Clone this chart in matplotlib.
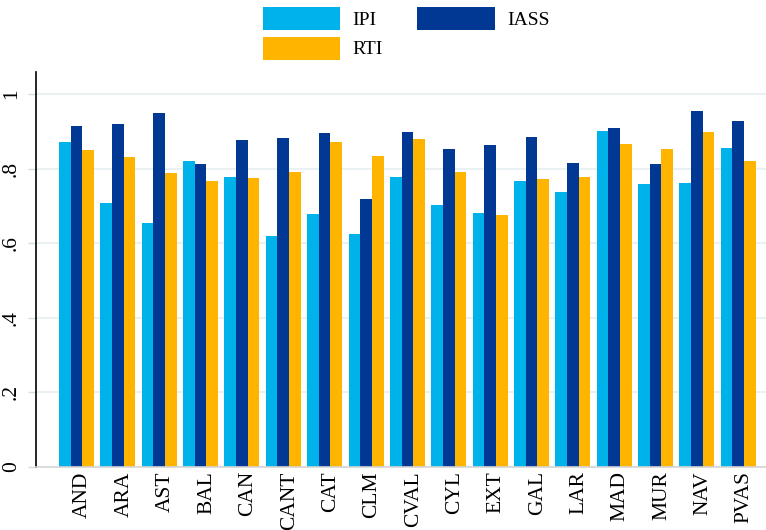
import matplotlib
matplotlib.use("Agg")
import matplotlib.pyplot as plt
import matplotlib.transforms as mtransforms
import numpy as np

categories = ["AND", "ARA", "AST", "BAL", "CAN", "CANT", "CAT", "CLM", "CVAL",
              "CYL", "EXT", "GAL", "LAR", "MAD", "MUR", "NAV", "PVAS"]
ipi = [0.871, 0.709, 0.655, 0.821, 0.778, 0.620, 0.678, 0.626, 0.777,
       0.702, 0.682, 0.766, 0.736, 0.901, 0.758, 0.761, 0.854]
iass = [0.914, 0.920, 0.948, 0.811, 0.877, 0.883, 0.895, 0.718, 0.898,
        0.852, 0.863, 0.886, 0.814, 0.908, 0.813, 0.954, 0.927]
rti = [0.850, 0.830, 0.789, 0.768, 0.776, 0.791, 0.870, 0.834, 0.879,
       0.792, 0.675, 0.773, 0.777, 0.865, 0.853, 0.897, 0.821]
yticks = [0, 0.2, 0.4, 0.6, 0.8, 1.0]
yticklabels = ["0", ".2", ".4", ".6", ".8", "1"]

c_ipi = "#00b2ea"
c_iass = "#003893"
c_rti = "#ffb400"

plt.rcParams['font.family'] = ['Liberation Serif', 'DejaVu Serif']

fig = plt.figure(figsize=(7.66, 5.30), dpi=100)
ax = fig.add_axes([36 / 766, (530 - 467) / 530, (766 - 36) / 766, (467 - 72) / 530])

x = np.arange(len(categories))
w = 0.282
b1 = ax.bar(x - w, ipi, w, color=c_ipi, label="IPI", zorder=3)
b2 = ax.bar(x, iass, w, color=c_iass, label="IASS", zorder=3)
b3 = ax.bar(x + w, rti, w, color=c_rti, label="RTI", zorder=3)

ax.set_xlim(-0.979, 16.67)
ax.set_ylim(0, (467 - 72) / 373)

ax.set_yticks(yticks)
ax.set_yticklabels(yticklabels, rotation=90, va="center", fontsize=15.5)
ax.yaxis.grid(True, color="#e6eff1", linewidth=1.2, zorder=0)
ax.tick_params(axis="y", length=6, color="#d5dcde", width=1, pad=5)

ax.set_xticks(x)
ax.set_xticklabels(categories, rotation=90, fontsize=15.5, va="top", ha="center")
ax.tick_params(axis="x", length=0, pad=3)
offset = mtransforms.ScaledTranslation(6 / 100, 0, fig.dpi_scale_trans)
for lab in ax.get_xticklabels():
    lab.set_transform(lab.get_transform() + offset)

for s in ["top", "right"]:
    ax.spines[s].set_visible(False)
ax.spines["left"].set_color("black")
ax.spines["left"].set_linewidth(1.2)
ax.spines["bottom"].set_color("#d5d5d5")
ax.spines["bottom"].set_linewidth(1.2)
ax.spines["bottom"].set_zorder(4)

leg = fig.legend(handles=[b1, b3, b2], labels=["IPI", "RTI", "IASS"], ncol=2,
                 loc="upper left", bbox_to_anchor=(249 / 766, 1.0 + 7 / 530),
                 frameon=False, fontsize=14, handlelength=4.0, handleheight=1.45,
                 columnspacing=1.8, handletextpad=0.6, labelspacing=0.35,
                 borderaxespad=0.3)

fig.savefig("out.png", dpi=100)
